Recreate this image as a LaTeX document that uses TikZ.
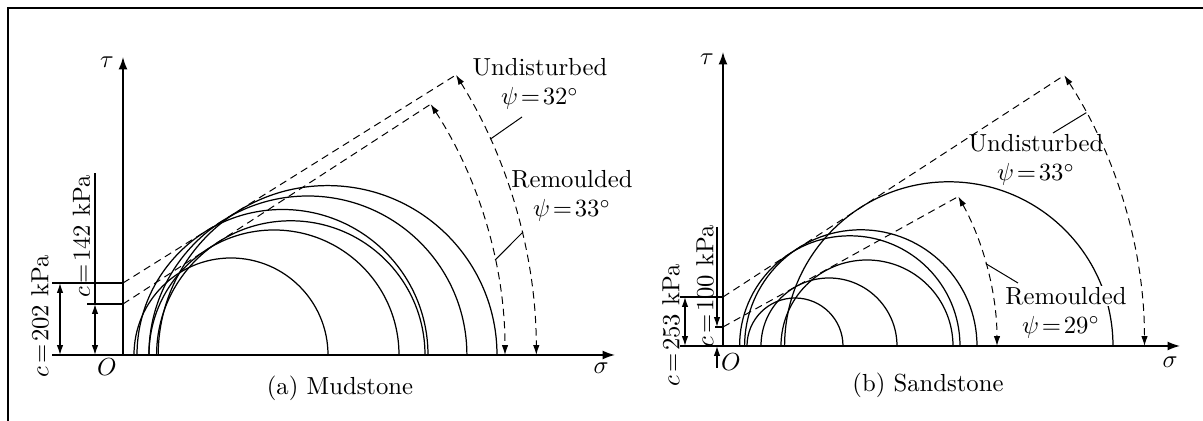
\documentclass[tikz,border=0pt]{standalone}
\usetikzlibrary{arrows.meta}
\tikzset{
    axis/.style={line width=0.6pt,-{Latex[length=5pt,width=3.6pt]}},
    mohr/.style={line width=0.5pt},
    envelope/.style={line width=0.4pt,dash pattern=on 3pt off 2pt},
    angarc/.style={envelope,{Latex[length=4pt,width=2.6pt]}-{Latex[length=4pt,width=2.6pt]}},
    dimarrow/.style={line width=0.5pt,{Latex[length=4pt,width=2.6pt]}-{Latex[length=4pt,width=2.6pt]}},
    tip/.style={line width=0.5pt,-{Latex[length=4pt,width=2.6pt]}},
    leader/.style={line width=0.4pt},
}

\begin{document}
\begin{tikzpicture}[x=0.01424cm,y=0.01424cm]
\useasboundingbox (0,0) rectangle (1203,421);
\draw[line width=1pt] (8,0) -- (8,413) -- (1203,413);

% (a) mudstone
\begin{scope}[shift={(123,66)}]
\draw[axis] (-71,0) -- (492,0);
\draw[axis] (0,0) -- (0,298);
\node (siga) at (478,-13) {$\sigma$};
\node (taua) at (-16,293) {$\tau$};
\node (Oa) at (-16,-12) {$O$};
\foreach \c/\r in {204.6/169.4, 184.9/159.0, 159.5/145.5, 167.8/134.2, 151/125, 108/97}
    \draw[mohr] (\c-\r,0) arc[start angle=180,end angle=0,radius=\r];
% envelopes
\coordinate (Ua) at ([shift={(-115.2,0)}]32:528.5);
\coordinate (Ra) at ([shift={(-78.5,0)}]33:460.5);
\draw[envelope] (0,72) -- (Ua);
\draw[envelope] (0,51) -- (Ra);
\draw[angarc] (Ua) arc[start angle=32,end angle=0,radius=528.5];
\draw[angarc] (Ra) arc[start angle=33,end angle=0,radius=460.5];
% cohesion
\draw[line width=0.5pt] (-71,72) -- (0,72);
\draw[line width=0.5pt] (-36,51) -- (0,51);
\draw[dimarrow] (-63,0) -- (-63,72);
\draw[dimarrow] (-28,0) -- (-28,51);
\draw[line width=0.5pt] (-28,51) -- (-28,182);
\node[rotate=90] (ca) at (-83,39) {$c\!=\!202$ kPa};
\node[rotate=90] (cra) at (-41.5,119) {$c\!=\!142$ kPa};
% labels
\node[align=center] (unda) at (417,271) {Undisturbed\\$\psi\!=\!32^\circ$};
\coordinate (unda-l) at (399,238);
\draw[leader] (unda-l) -- ([shift={(-115.2,0)}]24.1:528.5);
\node[align=center] (rema) at (449,159) {Remoulded\\$\psi\!=\!33^\circ$};
\coordinate (rema-l) at (400,123);
\draw[leader] (rema-l) -- ([shift={(-78.5,0)}]11.9:460.5);
\node (capa) at (217,-33) {(a) Mudstone};
\end{scope}

% (b) sandstone
\begin{scope}[shift={(723,75)}]
\draw[axis] (-43,0) -- (457,0);
\draw[axis] (0,0) -- (0,294);
\node (sigb) at (447,-16) {$\sigma$};
\node (taub) at (-16,287) {$\tau$};
\node (Ob) at (8,-16) {$O$};
\foreach \c/\r in {72/48, 106/68, 144/86, 126.8/110.2, 137.8/116.2, 225.8/164.2}
    \draw[mohr] (\c-\r,0) arc[start angle=180,end angle=0,radius=\r];
% envelopes
\coordinate (Ub) at ([shift={(-75.5,0)}]33:497);
\coordinate (Rb) at ([shift={(-34.3,0)}]29:308.3);
\draw[envelope] (0,49) -- (Ub);
\draw[envelope] (0,19) -- (Rb);
\draw[angarc] (Ub) arc[start angle=33,end angle=0,radius=497];
\draw[angarc] (Rb) arc[start angle=29,end angle=0,radius=308.3];
% cohesion
\draw[line width=0.5pt] (-43,49) -- (0,49);
\draw[line width=0.5pt] (-8,19) -- (0,19);
\draw[dimarrow] (-38,0) -- (-38,49);
\draw[tip] (-6,119) -- (-6,19);
\draw[tip] (-6,-22) -- (-6,0);
\node[rotate=90] (cb) at (-52,21) {$c\!=\!253$ kPa};
\node[rotate=90] (crb) at (-18,60) {$c\!=\!100$ kPa};
% labels
\node[align=center] (undb) at (313,186) {Undisturbed\\$\psi\!=\!33^\circ$};
\coordinate (undb-l) at (330,213);
\draw[leader] (undb-l) -- ([shift={(-75.5,0)}]28:497);
\node[fill=white,inner sep=0.5pt] (remb) at (343,50) {Remoulded};
\node[inner sep=0.5pt] (psirb) at (338,19) {$\psi\!=\!29^\circ$};
\coordinate (remb-l) at (295,63);
\draw[leader] (remb-l) -- ([shift={(-34.3,0)}]15.5:308.3);
\node (capb) at (205,-39) {(b) Sandstone};
\end{scope}
\end{tikzpicture}
\end{document}
